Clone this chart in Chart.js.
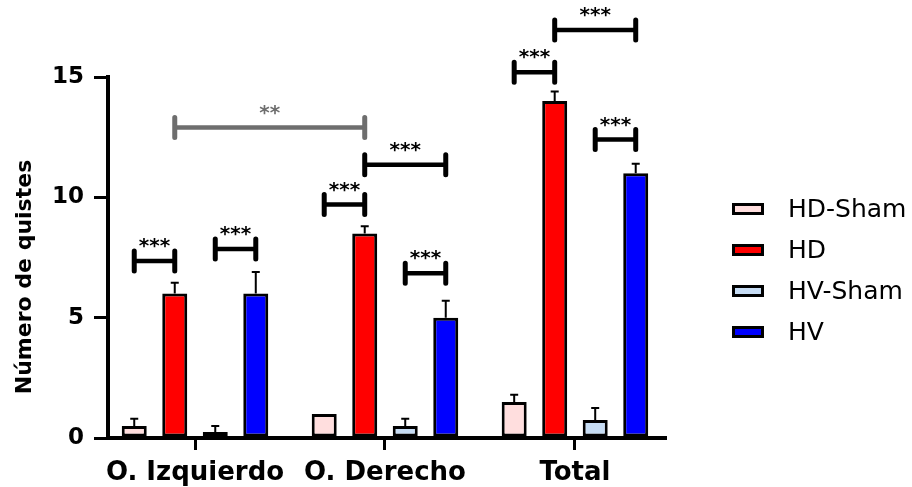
<!DOCTYPE html>
<html>
<head>
<meta charset="utf-8">
<script src="https://cdn.jsdelivr.net/npm/chart.js@4.4.0/dist/chart.umd.min.js"></script>
<style>
  html, body { margin: 0; padding: 0; background: #fff; }
  #wrap { position: relative; width: 912px; height: 487px; }
</style>
</head>
<body>
<div id="wrap"><canvas id="chart"></canvas></div>
<script>
/* ---------- datos ---------- */
const categories  = ['O. Izquierdo', 'O. Derecho', 'Total'];
const seriesNames = ['HD-Sham', 'HD', 'HV-Sham', 'HV'];

const hdSham = [0.5, 1, 1.5];
const hd     = [6, 8.5, 14];
const hvSham = [0.25, 0.5, 0.75];
const hv     = [6, 5, 11];

// barras de error (solo hacia arriba)
const hdShamErr = [0.3, 0, 0.3];
const hdErr     = [0.45, 0.3, 0.4];
const hvShamErr = [0.25, 0.3, 0.5];
const hvErr     = [0.9, 0.7, 0.4];

const yTicks = [0, 5, 10, 15];
const yTitle = 'Número de quistes';

// corchetes de significancia: [categoría, serie] -> [categoría, serie]
const sigFrom = [[0,0],[0,2],[0,1],[1,0],[1,1],[1,2],[2,0],[2,1],[2,2]];
const sigTo   = [[0,1],[0,3],[1,1],[1,1],[1,3],[1,3],[2,1],[2,3],[2,3]];
const sigY    = [7.35, 7.85, 12.9, 9.7, 11.35, 6.85, 15.2, 16.95, 12.4];
const sigText = ['***','***','**','***','***','***','***','***','***'];

/* ---------- estilo ---------- */
const ink    = '#000';
const family = '"DejaVu Sans", sans-serif';
const fills  = ['#FFDEDE', '#FF0000', '#C6DCF4', '#0000FF'];
const sigColors = sigText.map((t, k) => k === 2 ? '#6E6E6E' : ink);

const series = [hdSham, hd, hvSham, hv];
const errs   = [hdShamErr, hdErr, hvShamErr, hvErr];

/* ---------- plugins ---------- */
const errorBars = {
  id: 'errorBars',
  afterDatasetsDraw(chart){
    const { ctx, scales: { y } } = chart;
    ctx.save();
    ctx.strokeStyle = ink;
    ctx.lineWidth = 2;
    chart.data.datasets.forEach((ds, d) => {
      chart.getDatasetMeta(d).data.forEach((bar, i) => {
        const e = ds.errors[i];
        if(!e) return;
        const top = y.getPixelForValue(ds.data[i].y + e);
        ctx.beginPath();
        ctx.moveTo(bar.x, bar.y); ctx.lineTo(bar.x, top);
        ctx.moveTo(bar.x - 4, top); ctx.lineTo(bar.x + 4, top);
        ctx.stroke();
      });
    });
    ctx.restore();
  }
};

const brackets = {
  id: 'brackets',
  afterDatasetsDraw(chart){
    const { ctx, scales: { y } } = chart;
    const cx = ([c, s]) => chart.getDatasetMeta(s).data[c].x;
    ctx.save();
    ctx.font = 'bold 20px ' + family;
    ctx.textAlign = 'center';
    ctx.textBaseline = 'alphabetic';
    sigY.forEach((v, k) => {
      const x1 = cx(sigFrom[k]), x2 = cx(sigTo[k]);
      const py = y.getPixelForValue(v);
      ctx.strokeStyle = ctx.fillStyle = sigColors[k];
      ctx.lineCap = 'butt';
      ctx.lineWidth = 4.5;
      ctx.beginPath();
      ctx.moveTo(x1, py); ctx.lineTo(x2, py);
      ctx.stroke();
      ctx.lineCap = 'round';
      ctx.lineWidth = 5;
      ctx.beginPath();
      ctx.moveTo(x1, py - 10); ctx.lineTo(x1, py + 10);
      ctx.moveTo(x2, py - 10); ctx.lineTo(x2, py + 10);
      ctx.stroke();
      ctx.fillText(sigText[k], (x1 + x2) / 2, py - 9);
    });
    ctx.restore();
  }
};

const sideText = {
  id: 'sideText',
  afterDraw(chart){
    const { ctx } = chart;
    // título eje Y
    ctx.save();
    ctx.translate(25, 277);
    ctx.rotate(-Math.PI / 2);
    ctx.font = 'bold 22px ' + family;
    ctx.fillStyle = ink;
    ctx.textAlign = 'center';
    ctx.textBaseline = 'middle';
    ctx.fillText(yTitle, 0, 0);
    ctx.restore();

    // leyenda
    ctx.save();
    ctx.font = '25px ' + family;
    ctx.textBaseline = 'middle';
    ctx.textAlign = 'left';
    chart.data.datasets.forEach((ds, d) => {
      const cy = 209 + d * 41;
      ctx.fillStyle = ds.backgroundColor;
      ctx.fillRect(732, cy - 6, 32, 12);
      ctx.strokeStyle = ink;
      ctx.lineWidth = 3;
      ctx.strokeRect(733.5, cy - 4.5, 29, 9);
      ctx.fillStyle = ink;
      ctx.fillText(ds.label, 788, cy + 1);
    });
    ctx.restore();
  }
};

/* ---------- gráfico ---------- */
new Chart(document.getElementById('chart'), {
  type: 'bar',
  data: {
    datasets: seriesNames.map((name, d) => ({
      label: name,
      data: series[d].map((v, i) => ({ x: i, y: v })),
      errors: errs[d],
      backgroundColor: fills[d],
      borderColor: ink,
      borderWidth: 3,
      borderSkipped: false,
      categoryPercentage: 0.853,
      barPercentage: 0.617
    }))
  },
  options: {
    responsive: true,
    maintainAspectRatio: false,
    animation: false,
    layout: { padding: { top: 77, right: 247, left: 0, bottom: 0 } },
    plugins: { legend: { display: false }, tooltip: { enabled: false } },
    scales: {
      x: {
        type: 'linear',
        min: -0.458, max: 2.474,
        offset: false,
        afterBuildTicks: s => { s.ticks = categories.map((_, i) => ({ value: i })); },
        afterFit: s => { s.height = 49; },
        grid: { display: true, drawOnChartArea: false, drawTicks: true, tickLength: 12, lineWidth: 3, color: ink, offset: false },
        border: { display: true, width: 4, color: ink },
        ticks: {
          callback: v => categories[v],
          color: ink,
          font: { family, size: 26, weight: 'bold' },
          padding: 8, maxRotation: 0, autoSkip: false
        }
      },
      y: {
        min: 0, max: 15,
        afterBuildTicks: s => { s.ticks = yTicks.map(v => ({ value: v })); },
        afterFit: s => { s.width = 108; },
        grid: { display: true, drawOnChartArea: false, drawTicks: true, tickLength: 14, lineWidth: 3, color: ink },
        border: { display: true, width: 4, color: ink },
        ticks: { color: ink, font: { family, size: 23, weight: 'bold' }, padding: 10 }
      }
    }
  },
  plugins: [errorBars, brackets, sideText]
});
</script>
</body>
</html>
